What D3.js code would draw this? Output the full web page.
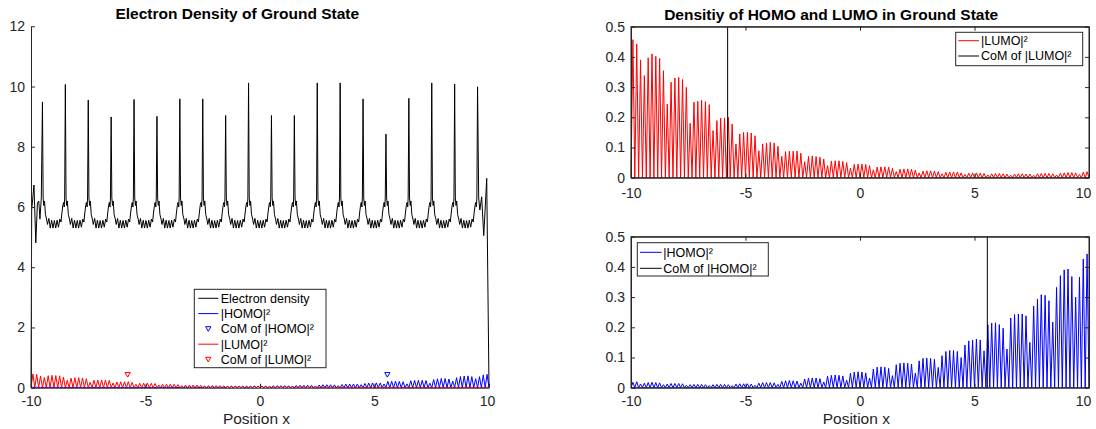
<!DOCTYPE html>
<html><head><meta charset="utf-8">
<script src="https://cdn.jsdelivr.net/npm/d3@7"></script>
<style>
body{margin:0;background:#fff}
svg{display:block}
text{font-family:"Liberation Sans",Arial,Helvetica,sans-serif}
</style>
</head><body>
<svg id="c" width="1096" height="429"></svg>
<script>
// ---------------- data ----------------
const xTicks = [-10, -5, 0, 5, 10];
const densityTicks = [0, 2, 4, 6, 8, 10, 12];
const orbitalTicks = [0, 0.1, 0.2, 0.3, 0.4, 0.5];

// electron density: main peaks (one per site)
const densityPeakX = [-9.5,-8.5,-7.5,-6.5,-5.5,-4.5,-3.5,-2.5,-1.5,-0.5,0.5,1.5,2.5,3.5,4.5,5.5,6.5,7.5,8.5,9.5];
const densityPeakY = [9.49,10.07,9.55,8.99,9.57,9.01,9.59,9.59,9.04,10.12,9.04,9.04,10.12,10.12,9.59,8.42,9.61,10.12,10.08,9.99];
// density between two neighbouring peaks (offset from the left peak, value)
const cellDx = [0.03,0.06,0.09,0.13,0.18,0.22,0.28,0.34,0.40,0.46,0.52,0.58,0.64,0.70,0.76,0.81,0.85,0.89,0.92,0.95,0.97];
const cellY  = [6.3, 6.05,6.2, 5.75,5.6, 5.42,5.62,5.3, 5.56,5.3, 5.55,5.3, 5.56,5.33,5.6, 5.5, 5.8, 6.05,6.15,6.0, 6.3];
// density at the two ends of the chain
const edgeLeftX  = [-10, -9.97, -9.87, -9.79, -9.72, -9.66, -9.61, -9.55];
const edgeLeftY  = [0, 5.9, 6.73, 4.81, 6.13, 6.2, 5.6, 6.3];
const edgeRightX = [9.55, 9.6, 9.68, 9.77, 9.83, 9.9, 10];
const edgeRightY = [6.3, 5.9, 6.34, 5.05, 5.9, 6.95, 0];

// |LUMO|^2 : height of each of the 120 humps, left to right
const lumoPeaks = [0.457,0.443,0.39,0.338,
0.397,0.41,0.402,0.395,0.354,0.244,
0.316,0.33,0.332,0.325,0.299,0.18,
0.25,0.253,0.256,0.252,0.242,0.156,
0.189,0.197,0.198,0.2,0.178,0.112,
0.145,0.15,0.15,0.148,0.139,0.089,
0.112,0.115,0.117,0.115,0.104,0.071,
0.086,0.088,0.088,0.088,0.081,0.053,
0.07,0.072,0.07,0.068,0.062,0.04,
0.055,0.056,0.056,0.054,0.05,0.032,
0.044,0.045,0.045,0.044,0.04,0.026,
0.035,0.036,0.036,0.035,0.031,0.02,
0.028,0.029,0.029,0.028,0.025,0.016,
0.022,0.023,0.023,0.022,0.02,0.013,
0.018,0.019,0.019,0.018,0.016,0.011,
0.015,0.016,0.016,0.015,0.014,0.009,
0.013,0.014,0.014,0.013,0.012,0.008,
0.012,0.013,0.013,0.012,0.012,0.008,
0.013,0.014,0.014,0.014,0.013,0.009,
0.015,0.016,0.017,0.017,0.016,0.011,
0.018,0.02];

// |HOMO|^2 : height of each of the 120 humps, left to right
const homoPeaks = [0.018,0.02,0.012,
0.015,0.017,0.018,0.017,0.016,0.01,
0.012,0.014,0.014,0.014,0.013,0.008,
0.01,0.011,0.011,0.011,0.01,0.007,
0.01,0.011,0.011,0.011,0.01,0.007,
0.012,0.013,0.013,0.013,0.012,0.008,
0.015,0.017,0.017,0.017,0.016,0.011,
0.021,0.023,0.024,0.023,0.022,0.015,
0.029,0.032,0.032,0.032,0.03,0.019,
0.038,0.041,0.042,0.041,0.039,0.025,
0.048,0.052,0.053,0.052,0.049,0.032,
0.062,0.068,0.069,0.068,0.064,0.04,
0.076,0.081,0.082,0.081,0.078,0.048,
0.089,0.097,0.098,0.097,0.094,0.067,
0.106,0.12,0.123,0.123,0.12,0.1,
0.141,0.155,0.158,0.161,0.158,0.122,
0.209,0.214,0.215,0.209,0.197,0.128,
0.231,0.242,0.244,0.244,0.238,0.15,
0.27,0.294,0.308,0.306,0.288,0.217,
0.332,0.371,0.39,0.393,0.368,0.3,
0.366,0.426,0.443];

// centres of mass
const comLumoX = -5.78;
const comHomoX = 5.56;
const comMarkerY = 0.43;

const titleLeft = "Electron Density of Ground State";
const titleRight = "Densitiy of HOMO and LUMO in Ground State";
const xLabel = "Position x";

// ---------------- build series ----------------
const density = [];
edgeLeftX.forEach((x, i) => density.push([x, edgeLeftY[i]]));
densityPeakX.forEach((px, k) => {
  density.push([px, densityPeakY[k]]);
  if (k < densityPeakX.length - 1) cellDx.forEach((dx, j) => density.push([px + dx, cellY[j]]));
});
edgeRightX.forEach((x, i) => density.push([x, edgeRightY[i]]));

function humps(peaks) {
  const w = 20 / peaks.length, pts = [];
  peaks.forEach((v, k) => { pts.push([-10 + k * w, 0]); pts.push([-10 + (k + 0.5) * w, v]); });
  pts.push([10, 0]);
  return pts;
}
const lumo = humps(lumoPeaks);
const homo = humps(homoPeaks);

// ---------------- drawing ----------------
const AX = "#262626";
const svg = d3.select("#c");
const fmt = d => String(d);

function styleAxis(g, fs) {
  g.attr("font-family", null).attr("font-size", null);
  g.selectAll("path.domain").attr("stroke", AX);
  g.selectAll(".tick line").attr("stroke", AX);
  g.selectAll(".tick text").attr("fill", AX).style("font-size", fs + "px");
}

// ----- left panel -----
const xL = d3.scaleLinear([-10, 10], [31, 489]);
const yL = d3.scaleLinear([0, 12], [387.7, 26.3]);
const gL = svg.append("g");

const lineL = d3.line().x(d => xL(d[0])).y(d => yL(d[1]));
gL.append("path").datum(density).attr("d", lineL).attr("fill", "none").attr("stroke", "#000").attr("stroke-width", 1);
gL.append("path").datum(homo).attr("d", lineL).attr("fill", "none").attr("stroke", "#0000ff").attr("stroke-width", 1);
gL.append("path").datum(lumo).attr("d", lineL).attr("fill", "none").attr("stroke", "#ff0000").attr("stroke-width", 1);

function tri(g, cx, cy, color) {
  g.append("path")
    .attr("d", `M${cx - 2.6},${cy - 2.2}L${cx + 2.6},${cy - 2.2}L${cx},${cy + 2.4}Z`)
    .attr("fill", "none").attr("stroke", color).attr("stroke-width", 1);
}
tri(gL, xL(comHomoX), yL(comMarkerY), "#0000ff");
tri(gL, xL(comLumoX), yL(comMarkerY), "#ff0000");

const axLy = gL.append("g").attr("transform", "translate(31,0)")
  .call(d3.axisLeft(yL).tickValues(densityTicks).tickFormat(fmt).tickSize(-4).tickSizeOuter(0).tickPadding(6));
styleAxis(axLy, 14);
const axLx = gL.append("g").attr("transform", "translate(0,387.7)")
  .call(d3.axisBottom(xL).tickValues(xTicks).tickFormat(fmt).tickSize(-4).tickSizeOuter(0).tickPadding(8));
styleAxis(axLx, 14);
axLx.selectAll(".tick text").filter(d => d === 10).attr("dx", -2);

gL.append("text").attr("x", 237.3).attr("y", 19.3).attr("text-anchor", "middle")
  .style("font-size", "15.5px").style("font-weight", "bold").attr("fill", "#000").text(titleLeft);
gL.append("text").attr("x", 256.5).attr("y", 423.5).attr("text-anchor", "middle")
  .style("font-size", "15.5px").attr("fill", AX).text(xLabel);

// left legend
(function () {
  const g = gL.append("g");
  g.append("rect").attr("x", 194.3).attr("y", 289.3).attr("width", 131.7).attr("height", 78.4)
    .attr("fill", "#fff").attr("stroke", AX).attr("stroke-width", 1);
  const items = [
    { t: "Electron density", c: "#000", m: false },
    { t: "|HOMO|²", c: "#0000ff", m: false },
    { t: "CoM of |HOMO|²", c: "#0000ff", m: true },
    { t: "|LUMO|²", c: "#ff0000", m: false },
    { t: "CoM of |LUMO|²", c: "#ff0000", m: true }
  ];
  items.forEach((it, i) => {
    const cy = 298.3 + i * 15.3;
    if (it.m) tri(g, 208.3, cy, it.c);
    else g.append("line").attr("x1", 198.3).attr("x2", 218.3).attr("y1", cy).attr("y2", cy).attr("stroke", it.c);
    g.append("text").attr("x", 220.7).attr("y", cy + 4.4).style("font-size", "12.5px").attr("fill", "#000").text(it.t);
  });
})();

// ----- right panels -----
const xR = d3.scaleLinear([-10, 10], [631, 1089]);
function rightPanel(y0, y1, data, color, comX, label, legendBox, legendRows, lineX, textX, labelPad, withXLabel) {
  const y = d3.scaleLinear([0, 0.5], [y0, y1]);
  const g = svg.append("g");
  const ln = d3.line().x(d => xR(d[0])).y(d => y(d[1]));
  g.append("path").datum(data).attr("d", ln).attr("fill", "none").attr("stroke", color).attr("stroke-width", 1);
  g.append("line").attr("x1", xR(comX)).attr("x2", xR(comX)).attr("y1", y(0)).attr("y2", y(0.5))
    .attr("stroke", "#000").attr("stroke-width", 1);
  g.append("rect").attr("x", xR(-10)).attr("y", y(0.5)).attr("width", xR(10) - xR(-10)).attr("height", y(0) - y(0.5))
    .attr("fill", "none").attr("stroke", AX).attr("stroke-width", 1);
  const ay = g.append("g").attr("transform", `translate(${xR(-10)},0)`)
    .call(d3.axisLeft(y).tickValues(orbitalTicks).tickFormat(fmt).tickSize(-4).tickSizeOuter(0).tickPadding(6));
  styleAxis(ay, 14);
  const ayr = g.append("g").attr("transform", `translate(${xR(10)},0)`)
    .call(d3.axisRight(y).tickValues(orbitalTicks).tickFormat("").tickSize(-4).tickSizeOuter(0));
  styleAxis(ayr, 14);
  const ax = g.append("g").attr("transform", `translate(0,${y0})`)
    .call(d3.axisBottom(xR).tickValues(xTicks).tickFormat(fmt).tickSize(-4).tickSizeOuter(0).tickPadding(labelPad));
  styleAxis(ax, 14);
  ax.selectAll(".tick text").filter(d => d === 10).attr("dx", -6);
  const axt = g.append("g").attr("transform", `translate(0,${y1})`)
    .call(d3.axisTop(xR).tickValues(xTicks).tickFormat("").tickSize(-4).tickSizeOuter(0));
  styleAxis(axt, 14);
  // legend
  const lg = g.append("g");
  lg.append("rect").attr("x", legendBox[0]).attr("y", legendBox[1]).attr("width", legendBox[2]).attr("height", legendBox[3])
    .attr("fill", "#fff").attr("stroke", AX).attr("stroke-width", 1);
  const items = [{ t: label, c: color }, { t: "CoM of " + label, c: "#000" }];
  items.forEach((it, i) => {
    const cy = legendRows[i];
    lg.append("line").attr("x1", lineX[0]).attr("x2", lineX[1]).attr("y1", cy).attr("y2", cy).attr("stroke", it.c);
    lg.append("text").attr("x", textX).attr("y", cy + 4.4).style("font-size", "12.5px").attr("fill", "#000").text(it.t);
  });
  if (withXLabel) {
    g.append("text").attr("x", 856.3).attr("y", 423.5).attr("text-anchor", "middle")
      .style("font-size", "15.5px").attr("fill", AX).text(xLabel);
  }
  return g;
}
rightPanel(177.7, 26.7, lumo, "#ff0000", comLumoX, "|LUMO|²", [955.7, 32.3, 127, 33.4], [40.7, 56], [958.3, 979], 981, 10, false);
rightPanel(387.7, 236.7, homo, "#0000ff", comHomoX, "|HOMO|²", [637.3, 242.7, 131, 33.3], [252.3, 268.3], [640, 661.7], 663.3, 8, true);

svg.append("text").attr("x", 831.2).attr("y", 20.3).attr("text-anchor", "middle")
  .style("font-size", "15.5px").style("font-weight", "bold").attr("fill", "#000").text(titleRight);
</script>
</body></html>
